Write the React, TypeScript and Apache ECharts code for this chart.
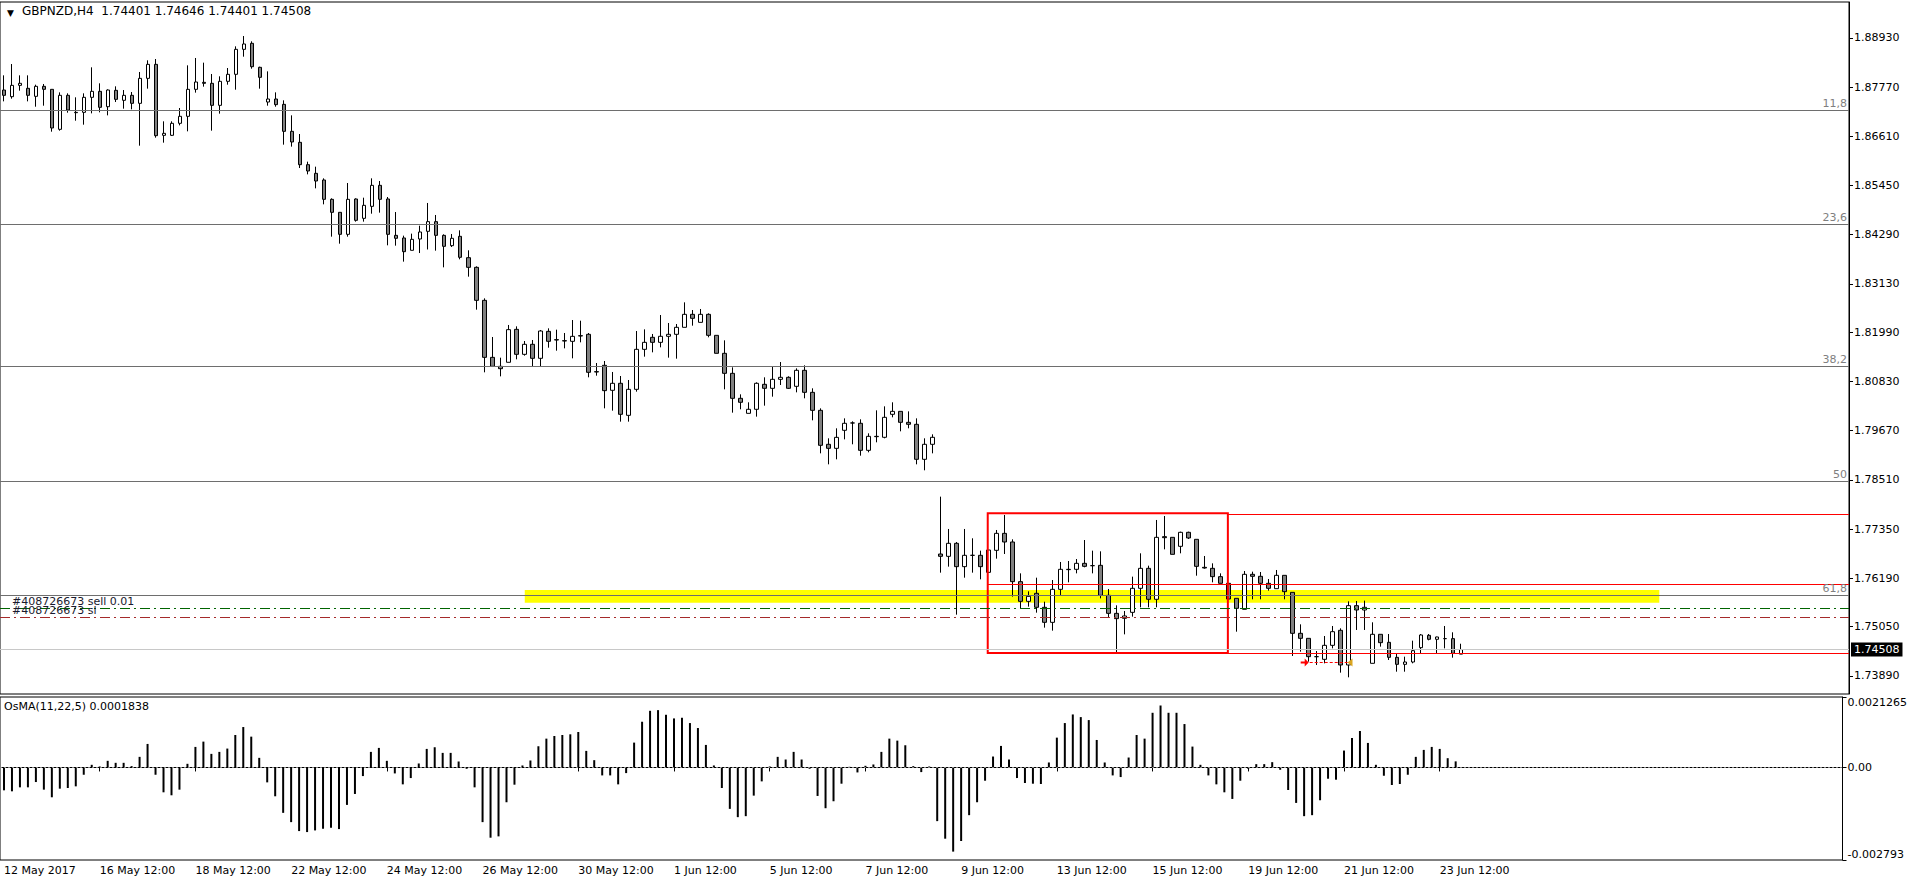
import React, { useEffect, useRef } from "react";
import * as echarts from "echarts";

const symbolName = "GBPNZD,H4";
const indicatorName = "OsMA(11,22,5)";
const timeTickLabels = ["12 May 2017", "16 May 12:00", "18 May 12:00", "22 May 12:00", "24 May 12:00", "26 May 12:00", "30 May 12:00", "1 Jun 12:00", "5 Jun 12:00", "7 Jun 12:00", "9 Jun 12:00", "13 Jun 12:00", "15 Jun 12:00", "19 Jun 12:00", "21 Jun 12:00", "23 Jun 12:00"];
const tickEveryBars = 12;
const totalSlots = 231;

const opens = [1.87699,1.87542,1.87809,1.87739,1.8755,1.87786,1.87715,1.86772,1.87574,1.87173,
1.87173,1.87527,1.87668,1.87306,1.87692,1.87456,1.87574,1.87385,1.87974,1.88304,
1.86631,1.86631,1.86914,1.87079,1.87715,1.8788,1.87857,1.87338,1.87904,1.88069,
1.88658,1.888,1.88234,1.87416,1.87487,1.87361,1.86725,1.86466,1.85939,1.85735,
1.85578,1.85122,1.84816,1.84297,1.8513,1.84674,1.84957,1.85452,1.8513,1.84273,
1.84211,1.8392,1.84187,1.84368,1.84596,1.84273,1.8403,1.8425,1.83747,1.83519,
1.82741,1.81397,1.81185,1.8128,1.82057,1.81468,1.81704,1.81374,1.8201,1.81814,
1.8179,1.81775,1.819,1.8194,1.8106,1.81209,1.8062,1.80785,1.8003,1.80643,
1.81586,1.81869,1.81751,1.81893,1.8194,1.82105,1.82411,1.82222,1.82411,1.81916,
1.81492,1.8102,1.80431,1.80077,1.80172,1.80761,1.80667,1.80879,1.80926,1.80714,
1.81091,1.80572,1.80148,1.79347,1.79252,1.79677,1.7985,1.79842,1.79205,1.79527,
1.79512,1.80054,1.80124,1.79865,1.79818,1.78993,1.79347,1.76761,1.76706,1.77013,
1.76463,1.7673,1.7673,1.76329,1.76848,1.77248,1.77044,1.76109,1.75645,1.75834,
1.75504,1.7515,1.75928,1.76392,1.764,1.76541,1.76486,1.76494,1.75787,1.75362,
1.75245,1.75386,1.75952,1.76423,1.75693,1.7717,1.77154,1.76942,1.77272,1.77107,
1.76447,1.76423,1.76227,1.7607,1.75716,1.75457,1.76282,1.76235,1.7607,1.75944,
1.76258,1.75857,1.74891,1.74773,1.74341,1.74278,1.74608,1.74962,1.74145,1.75543,
1.75441,1.74184,1.74868,1.74679,1.74325,1.7416,1.74215,1.74553,1.74844,1.7475,
1.74766,1.74766,1.74401];

const highs = [1.88045,1.88312,1.88045,1.88045,1.87825,1.87841,1.87715,1.87644,1.87621,1.87527,
1.87621,1.88234,1.87857,1.87715,1.87786,1.87699,1.87652,1.88124,1.88399,1.8843,
1.86961,1.86961,1.87275,1.88281,1.88454,1.88344,1.88077,1.88022,1.88218,1.88729,
1.88972,1.88847,1.88249,1.88139,1.87644,1.87456,1.87102,1.86662,1.8601,1.85892,
1.85617,1.85146,1.84816,1.85507,1.85146,1.85161,1.85617,1.85554,1.85177,1.84823,
1.84266,1.84313,1.84501,1.85036,1.84753,1.84297,1.84305,1.84391,1.8392,1.83543,
1.82788,1.81877,1.81389,1.8216,1.82128,1.81782,1.81806,1.82042,1.82081,1.8205,
1.81971,1.82277,1.82261,1.81971,1.81264,1.81311,1.81052,1.80957,1.80863,1.82018,
1.82057,1.81948,1.82395,1.82207,1.82183,1.82694,1.82513,1.82537,1.82435,1.81916,
1.81798,1.81162,1.80525,1.80337,1.80808,1.80926,1.81185,1.81287,1.8095,1.81138,
1.81209,1.80667,1.80195,1.79488,1.79724,1.79959,1.79889,1.79936,1.79606,1.80148,
1.80242,1.80337,1.80124,1.80124,1.79959,1.79488,1.79582,1.78113,1.77351,1.77044,
1.77351,1.77131,1.7684,1.76855,1.77327,1.77681,1.77107,1.76305,1.75881,1.76203,
1.75637,1.76148,1.76573,1.76596,1.76643,1.77091,1.7684,1.76824,1.75936,1.75551,
1.75418,1.76227,1.76777,1.76486,1.77563,1.77657,1.77154,1.77288,1.77288,1.77107,
1.76714,1.76541,1.76305,1.7607,1.75716,1.7636,1.76345,1.76337,1.76172,1.76384,
1.76258,1.75857,1.75103,1.74773,1.74474,1.74828,1.75064,1.75009,1.75645,1.75653,
1.75661,1.75151,1.74868,1.74875,1.7442,1.74341,1.74718,1.74875,1.74875,1.74812,
1.75064,1.74915,1.74646];

const lows = [1.87432,1.87495,1.87684,1.87432,1.87306,1.8733,1.86717,1.86741,1.87165,1.86976,
1.86882,1.87149,1.87173,1.87102,1.87416,1.87259,1.87244,1.86387,1.87731,1.86576,
1.86458,1.86615,1.86866,1.86725,1.87637,1.87778,1.86741,1.87142,1.87825,1.87707,
1.88485,1.88202,1.87731,1.8733,1.87306,1.86411,1.86364,1.8586,1.85711,1.85381,
1.85004,1.84242,1.84077,1.84242,1.84596,1.84596,1.84784,1.84808,1.84038,1.8403,
1.83653,1.8392,1.83856,1.8394,1.83912,1.83519,1.83998,1.83708,1.83299,1.82521,
1.81044,1.81169,1.80949,1.8128,1.8135,1.81437,1.81169,1.81169,1.81625,1.81554,
1.81609,1.81374,1.81751,1.80926,1.80965,1.80195,1.8014,1.79881,1.79881,1.80588,
1.81413,1.81515,1.81633,1.8139,1.81366,1.82105,1.82144,1.82222,1.81869,1.81492,
1.80643,1.80093,1.80172,1.80077,1.79999,1.80258,1.8047,1.80745,1.80651,1.80572,
1.80431,1.79912,1.79134,1.78875,1.78993,1.79464,1.79347,1.79079,1.79158,1.79394,
1.79488,1.79983,1.79653,1.79724,1.78875,1.78734,1.79134,1.76321,1.76463,1.75331,
1.76203,1.76321,1.76164,1.76329,1.76651,1.76761,1.75756,1.75488,1.7552,1.75378,
1.75025,1.74954,1.75795,1.76093,1.76305,1.76447,1.76305,1.75716,1.75268,1.74451,
1.74867,1.75284,1.75504,1.75504,1.75504,1.76871,1.76753,1.76777,1.77115,1.7625,
1.76415,1.76093,1.7607,1.757,1.7493,1.75457,1.75693,1.75693,1.75897,1.75944,
1.75693,1.74357,1.74459,1.74223,1.74145,1.74184,1.74537,1.73964,1.73854,1.7497,
1.7497,1.74184,1.74577,1.74262,1.73987,1.73987,1.74184,1.7442,1.74726,1.7442,
1.74537,1.74317,1.74401];

const closes = [1.87574,1.87809,1.87857,1.87574,1.87786,1.87715,1.86804,1.87574,1.87228,1.87165,
1.87527,1.87668,1.87291,1.87699,1.87479,1.87574,1.87385,1.87974,1.88304,1.86623,
1.86678,1.86914,1.87079,1.87715,1.87888,1.87857,1.87338,1.87904,1.88069,1.88658,
1.88784,1.88249,1.87998,1.87487,1.87354,1.86725,1.86474,1.85939,1.8579,1.85554,
1.85122,1.84816,1.84297,1.85122,1.84627,1.84981,1.85452,1.85122,1.84297,1.84203,
1.83888,1.84179,1.84352,1.84596,1.84273,1.84014,1.84203,1.83755,1.83519,1.82741,
1.81397,1.81185,1.8113,1.8205,1.81468,1.81704,1.81374,1.82018,1.81775,1.81806,
1.81783,1.81892,1.81908,1.81044,1.81052,1.80612,1.80785,1.80054,1.80643,1.81586,
1.81751,1.81751,1.81893,1.8194,1.82105,1.82411,1.82317,1.82411,1.81916,1.81492,
1.8102,1.80431,1.80337,1.80172,1.80785,1.80667,1.80879,1.80926,1.80667,1.81091,
1.80572,1.80148,1.79323,1.79252,1.79511,1.79842,1.7985,1.79205,1.79535,1.79535,
1.79983,1.80124,1.79865,1.79818,1.78993,1.79347,1.79512,1.76706,1.77013,1.76463,
1.7673,1.7673,1.76463,1.76855,1.77248,1.77044,1.76109,1.75645,1.75763,1.75504,
1.7515,1.75928,1.764,1.764,1.76541,1.7647,1.76486,1.75787,1.75362,1.75237,
1.753,1.75952,1.76423,1.75693,1.77154,1.77146,1.76753,1.77272,1.77139,1.7647,
1.76431,1.76227,1.7607,1.757,1.7548,1.76282,1.76235,1.7607,1.75952,1.76258,
1.75873,1.74891,1.74773,1.74341,1.74341,1.74608,1.7493,1.74145,1.75543,1.75441,
1.75504,1.74868,1.74671,1.74325,1.7416,1.74215,1.74482,1.74852,1.7475,1.74805,
1.74766,1.7442,1.74508];

const osmaValues = [-0.00069,-0.00072,-0.0006,-0.0006,-0.00044,-0.00067,-0.0009,-0.00064,-0.00062,-0.00057,
-0.00022,0.00008,0.00003,0.0002,0.00014,0.00014,0.00004,0.00032,0.00071,-0.00022,
-0.00075,-0.00084,-0.00067,0.00011,0.00062,0.00078,0.00041,0.00047,0.00057,0.00098,
0.00122,0.00093,0.00029,-0.00045,-0.00087,-0.00137,-0.00165,-0.00192,-0.00195,-0.0019,
-0.00185,-0.00182,-0.00186,-0.00113,-0.0008,-0.00026,0.00047,0.00059,0.0002,-0.00018,
-0.00051,-0.00032,0.00012,0.00056,0.00061,0.00044,0.00044,0.00018,-0.00004,-0.0006,
-0.00165,-0.00212,-0.00208,-0.00105,-0.00052,0.00006,0.00021,0.00064,0.00087,0.00095,
0.00098,0.001,0.00107,0.0005,0.00022,-0.00024,-0.00024,-0.00051,-0.00017,0.00075,
0.00138,0.00171,0.00173,0.00159,0.00148,0.0015,0.00134,0.00119,0.00068,0.00006,
-0.00062,-0.00125,-0.0015,-0.00147,-0.00085,-0.00042,0.00003,0.00032,0.00024,0.00047,
0.00024,-0.00004,-0.00086,-0.00123,-0.00102,-0.00049,0.00002,-0.00015,0.00005,0.00009,
0.00047,0.00087,0.00081,0.00067,0.00004,-0.00014,0.00003,-0.00162,-0.00215,-0.00254,
-0.00222,-0.00144,-0.00105,-0.0004,0.00033,0.00065,0.00024,-0.00032,-0.00047,-0.00049,
-0.0005,0.00015,0.0009,0.00134,0.0016,0.00152,0.00143,0.00083,0.00015,-0.00024,
-0.00029,0.0003,0.00098,0.00087,0.00165,0.00187,0.00165,0.00165,0.00131,0.00063,
0.00008,-0.00024,-0.00051,-0.00075,-0.00095,-0.0004,-0.00004,0.0001,0.0001,0.00016,
-0.00007,-0.00068,-0.00107,-0.00147,-0.00144,-0.00099,-0.00034,-0.00037,0.00051,0.00089,
0.0011,0.00074,0.00008,-0.00025,-0.00053,-0.0005,-0.00022,0.00032,0.00053,0.00062,
0.00056,0.00028,0.0001838];

const priceTicks = [1.8893, 1.8777, 1.8661, 1.8545, 1.8429, 1.8313, 1.8199, 1.8083, 1.7967, 1.7851, 1.7735, 1.7619, 1.7505, 1.7389];
const priceMin = 1.734607;
const priceMax = 1.89774;
const osmaMin = -0.002793;
const osmaMax = 0.0021265;

const fibPrices = [1.87228, 1.84533, 1.81185, 1.7848, 1.75787];
const fibLabels = ["11,8", "23,6", "38,2", "50", "61,8"];

const orderPrice = 1.75481;
const orderText = "#408726673 sell 0.01";
const slPrice = 1.75269;
const slText = "#408726673 sl";

// [fromBar, toBar, topPrice, bottomPrice]
const yellowBand = [65.06, 206.8, 1.75913, 1.75614];
const redBox = [122.9, 152.9, 1.7772, 1.74428];
// red horizontal levels: start bar -> right edge
const redLevelFromBar = [152.9, 122.9, 152.9];
const redLevelPrice = [1.77705, 1.76046, 1.74419];
// closed trade: [fromBar, toBar, price]
const tradeLine = [162.5, 168.1, 1.74207];

const FONT = '"DejaVu Sans", sans-serif';

export default function App() {
  const ref = useRef<HTMLDivElement>(null);

  useEffect(() => {
    document.body.style.margin = "0";
    if (!ref.current) return;
    const chart = echarts.init(ref.current, undefined, { renderer: "svg" });

    const categories = Array.from({ length: totalSlots }, (_, i) => String(i));
    const isTick = (index: number) => index % tickEveryBars === 0 && index / tickEveryBars < timeTickLabels.length;
    const candleData = opens.map((o, i) => [o, closes[i], lows[i], highs[i]]);
    const last = opens.length - 1;
    const fmt = (v: number) => v.toFixed(5);
    const header = `${symbolName}  ${fmt(opens[last])} ${fmt(highs[last])} ${fmt(lows[last])} ${fmt(closes[last])}`;
    const osmaLabel = `${indicatorName} ${osmaValues[osmaValues.length - 1]}`;

    const helpers = (params: any, api: any) => {
      const bw = api.size([1, 0])[0];
      const xAt = (v: number) => {
        const b = Math.floor(v);
        return api.coord([b, priceMin])[0] + (v - b) * bw;
      };
      const yAt = (p: number) => api.coord([0, p])[1];
      const cs = params.coordSys;
      return { xAt, yAt, right: cs.x + cs.width };
    };

    const option: any = {
      animation: false,
      textStyle: { fontFamily: FONT },
      grid: [
        { left: 0, top: 2, width: 1849, height: 692, show: true, borderColor: "#000", borderWidth: 1, backgroundColor: "#fff" },
        { left: 0, top: 697, width: 1849, height: 163, show: true, borderColor: "#000", borderWidth: 1, backgroundColor: "#fff" },
      ],
      xAxis: [
        { type: "category", gridIndex: 0, data: categories, boundaryGap: true, show: false },
        {
          type: "category",
          gridIndex: 1,
          data: categories,
          boundaryGap: true,
          axisLine: { show: true, lineStyle: { color: "#000", width: 1 } },
          axisTick: { show: true, interval: (i: number) => isTick(i), alignWithLabel: true, length: 4, lineStyle: { color: "#000" } },
          axisLabel: {
            interval: (i: number) => isTick(i),
            formatter: (_v: string, i: number) => timeTickLabels[i / tickEveryBars] ?? "",
            align: "left",
            margin: 5,
            fontSize: 11,
            color: "#000",
            fontFamily: FONT,
          },
          splitLine: { show: false },
        },
      ],
      yAxis: [
        {
          type: "value",
          gridIndex: 0,
          position: "right",
          min: priceMin,
          max: priceMax,
          scale: true,
          axisLine: { show: true, lineStyle: { color: "#000" } },
          axisTick: { show: true, inside: false, length: 4, customValues: priceTicks, lineStyle: { color: "#000" } },
          axisLabel: { customValues: priceTicks, formatter: (v: number) => v.toFixed(5), fontSize: 11, color: "#000", margin: 5, fontFamily: FONT },
          splitLine: { show: false },
        },
        {
          type: "value",
          gridIndex: 1,
          position: "right",
          min: osmaMin,
          max: osmaMax,
          axisLine: { show: true, lineStyle: { color: "#000" } },
          axisTick: { show: true, inside: false, length: 4, customValues: [osmaMax, 0, osmaMin], lineStyle: { color: "#000" } },
          axisLabel: {
            customValues: [osmaMax, 0, osmaMin],
            formatter: (v: number) => (v === 0 ? "0.00" : String(v)),
            fontSize: 11,
            color: "#000",
            margin: 5,
            fontFamily: FONT,
            verticalAlignMaxLabel: "bottom",
            verticalAlignMinLabel: "top",
          },
          splitLine: { show: false },
        },
      ],
      series: [
        {
          type: "custom",
          name: "zone",
          xAxisIndex: 0,
          yAxisIndex: 0,
          z: 1,
          silent: true,
          data: [[0, yellowBand[2]]],
          renderItem: (params: any, api: any) => {
            const { xAt, yAt } = helpers(params, api);
            const x0 = xAt(yellowBand[0]);
            const x1 = xAt(yellowBand[1]);
            const y0 = yAt(yellowBand[2]);
            const y1 = yAt(yellowBand[3]);
            return { type: "rect", shape: { x: x0, y: y0, width: x1 - x0, height: y1 - y0 }, style: { fill: "#ffff00" } };
          },
        },
        {
          type: "candlestick",
          name: "GBPNZD",
          xAxisIndex: 0,
          yAxisIndex: 0,
          z: 2,
          barWidth: 4,
          data: candleData,
          itemStyle: { color: "#ffffff", color0: "#808080", borderColor: "#000000", borderColor0: "#000000", borderWidth: 1 },
          markLine: {
            silent: true,
            symbol: ["none", "none"],
            precision: 6,
            animation: false,
            data: [
              ...fibPrices.map((p, k) => ({
                yAxis: p,
                lineStyle: { color: "#6e6e6e", width: 1, type: "solid" },
                label: { show: true, position: "insideEndTop", formatter: fibLabels[k], color: "#7f7f7f", fontSize: 11, fontFamily: FONT, distance: [2, 1] },
              })),
              {
                yAxis: orderPrice,
                lineStyle: { color: "#006400", width: 1, type: [10, 4, 2, 4] },
                label: { show: true, position: "insideStartTop", formatter: orderText, color: "#1a1a2e", fontSize: 11, fontFamily: FONT, distance: [12, 1] },
              },
              {
                yAxis: slPrice,
                lineStyle: { color: "#a52a2a", width: 1, type: [10, 4, 2, 4] },
                label: { show: true, position: "insideStartTop", formatter: slText, color: "#1a1a2e", fontSize: 11, fontFamily: FONT, distance: [12, 1] },
              },
              {
                yAxis: closes[last],
                lineStyle: { color: "#c8c8c8", width: 1, type: "solid" },
                label: {
                  show: true,
                  position: "end",
                  formatter: fmt(closes[last]),
                  color: "#fff",
                  backgroundColor: "#000",
                  padding: [2, 3, 1, 3],
                  fontSize: 11,
                  fontFamily: FONT,
                  distance: 2,
                },
              },
            ],
          },
        },
        {
          type: "custom",
          name: "objects",
          xAxisIndex: 0,
          yAxisIndex: 0,
          z: 3,
          silent: true,
          data: [[0, redBox[2]]],
          renderItem: (params: any, api: any) => {
            const { xAt, yAt, right } = helpers(params, api);
            const children: any[] = [];
            const bx0 = xAt(redBox[0]);
            const bx1 = xAt(redBox[1]);
            const by0 = yAt(redBox[2]);
            const by1 = yAt(redBox[3]);
            redLevelPrice.forEach((p, k) => {
              const y = Math.round(yAt(p)) + 0.5;
              children.push({ type: "line", shape: { x1: xAt(redLevelFromBar[k]), y1: y, x2: right, y2: y }, style: { stroke: "#ff0000", lineWidth: 1 } });
            });
            children.push({ type: "rect", shape: { x: bx0, y: by0, width: bx1 - bx0, height: by1 - by0 }, style: { fill: "none", stroke: "#ff0000", lineWidth: 2 } });
            const tx0 = xAt(tradeLine[0]);
            const tx1 = xAt(tradeLine[1]);
            const ty = Math.round(yAt(tradeLine[2])) + 0.5;
            children.push({ type: "line", shape: { x1: tx0, y1: ty, x2: tx1, y2: ty }, style: { stroke: "#ff0000", lineWidth: 1, lineDash: [3, 2] } });
            children.push({
              type: "polygon",
              shape: { points: [[tx0 - 4, ty - 1], [tx0, ty - 1], [tx0, ty - 4], [tx0 + 4, ty], [tx0, ty + 4], [tx0, ty + 1], [tx0 - 4, ty + 1]] },
              style: { fill: "#ff0000" },
            });
            children.push({
              type: "polygon",
              shape: { points: [[tx1 + 3, ty - 4], [tx1 + 3, ty + 4], [tx1 - 2, ty]] },
              style: { fill: "#daa520" },
            });
            return { type: "group", children };
          },
        },
        {
          type: "bar",
          name: "OsMA",
          xAxisIndex: 1,
          yAxisIndex: 1,
          barWidth: 2,
          data: osmaValues,
          itemStyle: { color: "#000" },
          markLine: {
            silent: true,
            symbol: ["none", "none"],
            data: [{ yAxis: 0 }],
            lineStyle: { color: "#808080", width: 1, type: [2, 2] },
            label: { show: false },
          },
        },
      ],
      graphic: [
        { type: "text", left: 7, top: 8, style: { text: "▼", font: `9px ${FONT}`, fill: "#000" } },
        { type: "text", left: 22, top: 5, style: { text: header, font: `12px ${FONT}`, fill: "#000" } },
        { type: "text", left: 4, top: 701, style: { text: osmaLabel, font: `11px ${FONT}`, fill: "#000" } },
      ],
    };

    chart.setOption(option);
    return () => chart.dispose();
  }, []);

  return <div ref={ref} style={{ width: 1910, height: 884 }} />;
}
